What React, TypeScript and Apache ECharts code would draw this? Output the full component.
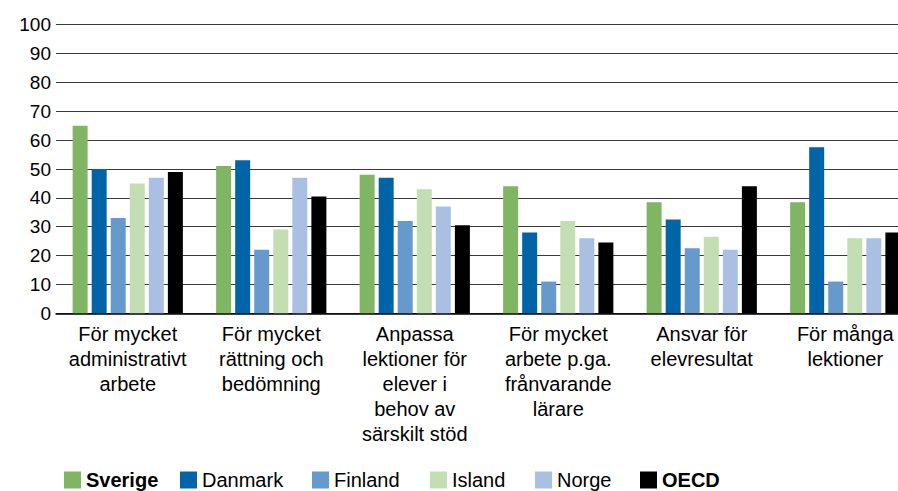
import React, { useEffect, useRef } from "react";
import * as echarts from "echarts";

const categories = [
  "För mycket\nadministrativt\narbete",
  "För mycket\nrättning och\nbedömning",
  "Anpassa\nlektioner för\nelever i\nbehov av\nsärskilt stöd",
  "För mycket\narbete p.ga.\nfrånvarande\nlärare",
  "Ansvar för\nelevresultat",
  "För många\nlektioner",
];

const seriesNames = ["Sverige", "Danmark", "Finland", "Island", "Norge", "OECD"];
const sverige = [65, 51, 48, 44, 38.5, 38.5];
const danmark = [50, 53, 47, 28, 32.5, 57.5];
const finland = [33, 22, 32, 11, 22.5, 11];
const island = [45, 29, 43, 32, 26.5, 26];
const norge = [47, 47, 37, 26, 22, 26];
const oecd = [49, 40.5, 30.5, 24.5, 44, 28];
const yTicks = [0, 10, 20, 30, 40, 50, 60, 70, 80, 90, 100];

const colors = ["#80B663", "#0064A6", "#6699CC", "#C4DEB3", "#A9C0E2", "#000000"];
const boldNames = ["Sverige", "OECD"];
const legendLefts = [64, 180, 312, 430, 535, 640];

const FONT = "'Liberation Sans', Arial, sans-serif";

export default function App() {
  const ref = useRef<HTMLDivElement>(null);
  useEffect(() => {
    document.body.style.margin = "0";
    document.body.style.overflow = "hidden";
    const chart = echarts.init(ref.current!, null, { renderer: "svg" });
    const values = [sverige, danmark, finland, island, norge, oecd];
    chart.setOption({
      animation: false,
      textStyle: { fontFamily: FONT },
      grid: { left: 56, width: 861, top: 24.7, bottom: 177.7, containLabel: false },
      legend: seriesNames.map((n, i) => ({
        data: [n],
        left: legendLefts[i],
        top: 470,
        padding: 0,
        icon: "rect",
        itemWidth: 17,
        itemHeight: 17,
        textStyle: {
          fontFamily: FONT,
          fontSize: 20,
          color: "#000",
          fontWeight: boldNames.includes(n) ? "bold" : "normal",
        },
      })),
      xAxis: {
        type: "category",
        data: categories,
        axisLine: { lineStyle: { color: "#000", width: 1.5 } },
        axisTick: { show: false },
        axisLabel: {
          interval: 0,
          margin: 8,
          fontSize: 20,
          lineHeight: 25,
          color: "#000",
          fontFamily: FONT,
        },
      },
      yAxis: {
        type: "value",
        min: 0,
        max: 100,
        interval: 10,
        axisLine: { show: false },
        axisTick: { show: false },
        axisLabel: {
          margin: 5,
          fontSize: 19,
          color: "#000",
          fontFamily: FONT,
          formatter: (v: number) => (yTicks.includes(v) ? String(v) : ""),
        },
        splitLine: { lineStyle: { color: "#3a3a3a", width: 1 } },
      },
      series: seriesNames.map((n, i) => ({
        name: n,
        type: "bar",
        data: values[i],
        barWidth: 15,
        barGap: "27%",
        itemStyle: { color: colors[i] },
      })),
    });
    return () => chart.dispose();
  }, []);
  return (
    <div style={{ width: 898, height: 491, overflow: "hidden" }}>
      <div ref={ref} style={{ width: 930, height: 491 }} />
    </div>
  );
}
